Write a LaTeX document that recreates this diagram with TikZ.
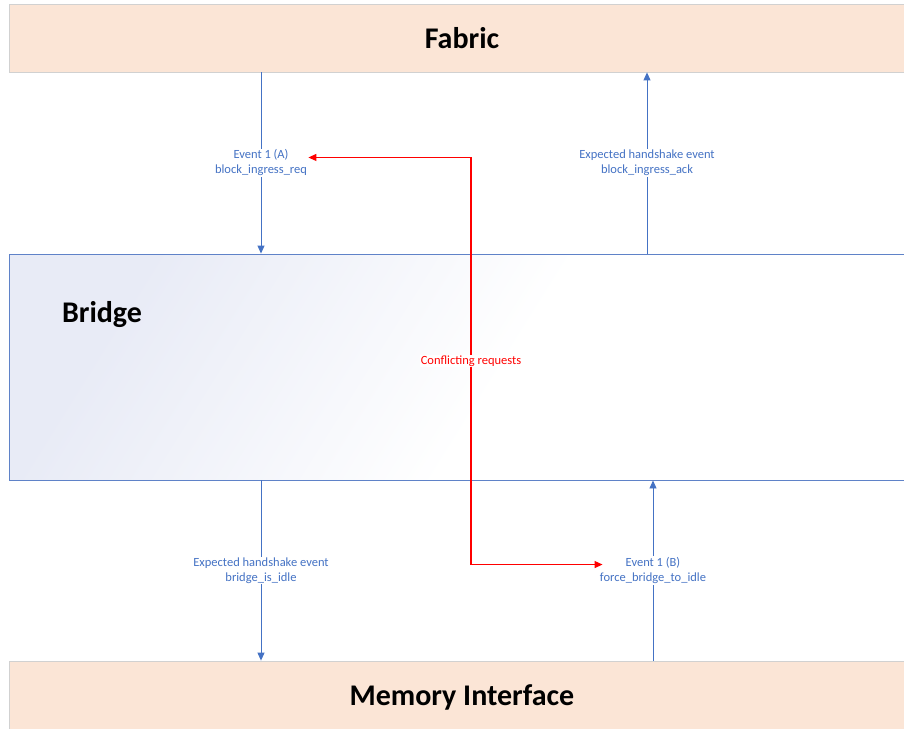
\documentclass[tikz,border=0pt]{standalone}
\usepackage{fontspec}
\setmainfont{Carlito}
\usetikzlibrary{arrows.meta}
\definecolor{peach}{HTML}{FBE5D6}
\definecolor{linkblue}{HTML}{4472C4}
\definecolor{bridgeedge}{HTML}{5F82C8}
\definecolor{bridgetint}{HTML}{E8EBF6}
\definecolor{alertred}{HTML}{FF0000}
% soft tint in the upper left of the bridge, fading to white
\pgfdeclareverticalshading{bridgefade}{100bp}{color(0bp)=(white); color(47bp)=(white);
  color(75bp)=(bridgetint); color(100bp)=(bridgetint)}
\begin{document}
\begin{tikzpicture}[x=1pt,y=-1pt,
  titlebox/.style={draw=black!18, line width=0.8pt, fill=peach, inner sep=0pt,
    font=\fontsize{30}{36}\selectfont\bfseries},
  bridgebox/.style={draw=bridgeedge, line width=0.9pt, inner sep=0pt,
    shading=bridgefade, shading angle=58},
  bigtitle/.style={inner sep=0pt, font=\fontsize{30}{36}\selectfont\bfseries},
  evlabel/.style={fill=white, inner sep=1pt, align=center, text=linkblue,
    font=\fontsize{12.5}{15}\selectfont},
  clabel/.style={fill=white, inner sep=1pt, text=alertred,
    font=\fontsize{12.5}{15}\selectfont},
  flow/.style={draw=linkblue, line width=0.9pt, -{Triangle[length=8pt,width=7pt]}},
  conflict/.style={draw=alertred, line width=1.2pt,
    {Triangle[length=8pt,width=7pt]}-{Triangle[length=8pt,width=7pt]}}]
\useasboundingbox (0,0) rectangle (904,728);
\clip (0,0) rectangle (904,728);

% blocks
\node[titlebox, minimum width=906pt, minimum height=68pt] (fabric) at (462,38) {Fabric};
\node[bridgebox, minimum width=906pt, minimum height=226pt] (bridge) at (462,367) {};
\node[bigtitle] (bridgename) at (102,315) {Bridge};
\node[titlebox, minimum width=906pt, minimum height=68pt] (mem) at (462,695) {};
\node[bigtitle] (memname) at (462,697) {Memory Interface};

% columns of the event links
\coordinate (xA) at (261,0);
\coordinate (xK) at (647,0);
\coordinate (xB) at (653,0);
\coordinate (xR) at (471,0);

% fabric <-> bridge
\draw[flow] (fabric.south -| xA) -- node[evlabel] (evA) {Event 1 (A)\\block\_ingress\_req} (bridge.north -| xA);
\draw[flow] (bridge.north -| xK) -- node[evlabel] (ack) {Expected handshake event\\block\_ingress\_ack} (fabric.south -| xK);

% bridge <-> memory interface
\draw[flow] (bridge.south -| xA) -- node[evlabel] (idle) {Expected handshake event\\bridge\_is\_idle} (mem.north -| xA);
\draw[flow] (mem.north -| xB) -- node[evlabel] (evB) {Event 1 (B)\\force\_bridge\_to\_idle} (bridge.south -| xB);

% conflicting requests
\coordinate (rA) at ([yshift=5.5pt]evA.east);
\coordinate (rB) at ([yshift=6pt,xshift=4pt]evB.west);
\draw[conflict] (rA) -- (rA -| xR) -- node[clabel] (conf) {Conflicting requests} (rB -| xR) -- (rB);
\end{tikzpicture}
\end{document}
